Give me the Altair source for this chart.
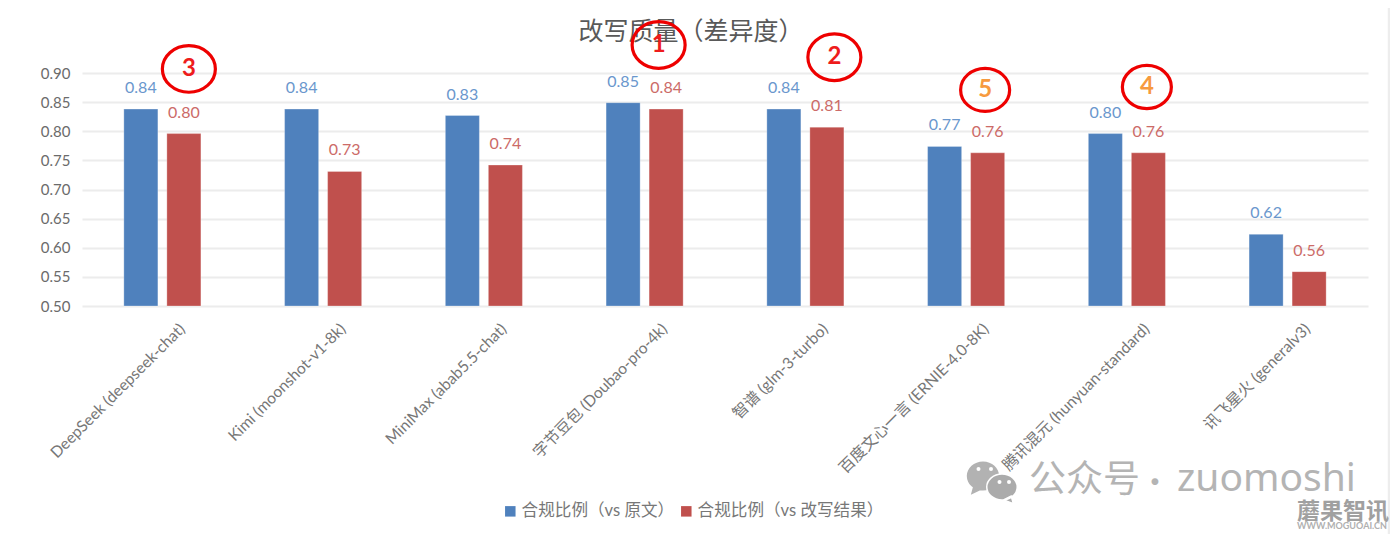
import altair as alt
import pandas as pd

FONT = "Lato, 'Noto Sans CJK SC', sans-serif"
CJK = "'Noto Sans CJK SC', sans-serif"

categories = [
    "DeepSeek (deepseek-chat)", "Kimi (moonshot-v1-8k)", "MiniMax (abab5.5-chat)",
    "字节豆包 (Doubao-pro-4k)", "智谱 (glm-3-turbo)", "百度文心一言 (ERNIE-4.0-8K)",
    "腾讯混元 (hunyuan-standard)", "讯飞星火 (generalv3)",
]
series = ["合规比例（vs 原文）", "合规比例（vs 改写结果）"]
vs_original = [0.838, 0.838, 0.827, 0.849, 0.838, 0.774, 0.796, 0.623]
vs_rewrite = [0.796, 0.731, 0.742, 0.838, 0.807, 0.763, 0.763, 0.559]

ann_rank = ["3", "1", "2", "5", "4"]
ann_cat = [categories[0], categories[3], categories[4], categories[5], categories[6]]
ann_level = [0.907, 0.948, 0.927, 0.871, 0.876]
ann_shift = [26.5, 14, 29, 19, 20]
ann_colour = ["#ee1c1c", "#ee1c1c", "#ee1c1c", "#f79a3e", "#f79a3e"]
ann_size = [2809, 2809, 2809, 2401, 2401]

rows = []
for c, a, b in zip(categories, vs_original, vs_rewrite):
    rows.append({"cat": c, "series": series[0], "v": a})
    rows.append({"cat": c, "series": series[1], "v": b})
df = pd.DataFrame(rows)

x = alt.X("cat:N", sort=categories, scale=alt.Scale(paddingInner=0, paddingOuter=0),
          axis=alt.Axis(title=None, labelAngle=315, labelAlign="right", labelBaseline="middle",
                        labelFontSize=15.7, labelColor="#777777", labelFont=FONT, labelPadding=20,
                        labelOffset=20, ticks=False, domain=False, grid=False, labelLimit=400,
                        labelOverlap=False))
xo = alt.XOffset("series:N", sort=series,
                 scale=alt.Scale(domain=series, paddingInner=0.209, paddingOuter=0.973))
y = alt.Y("v:Q", scale=alt.Scale(domain=[0.5, 0.9], nice=False),
          axis=alt.Axis(title=None, values=[0.5, 0.55, 0.6, 0.65, 0.7, 0.75, 0.8, 0.85, 0.9],
                        format=".2f", labelFontSize=15, labelColor="#6b6b6b", labelFont=FONT,
                        labelPadding=12, ticks=False, domain=False, grid=True,
                        gridColor="#ececec", gridWidth=2))

base = alt.Chart(df)
bars = base.mark_bar(strokeWidth=0.8, strokeOpacity=0.35, stroke="#ffffff").encode(
    x=x, xOffset=xo, y=y, y2=alt.datum(0.5),
    color=alt.Color("series:N", sort=series,
                    scale=alt.Scale(domain=series, range=["#4f81bd", "#c0504d"]),
                    legend=alt.Legend(orient="none", legendX=420, legendY=430, direction="horizontal",
                                      title=None, symbolType="square", symbolSize=110,
                                      symbolStrokeWidth=0, labelFontSize=16.6, labelColor="#777777",
                                      labelFont=FONT, labelOffset=3, columnPadding=3, labelLimit=300)),
)

def value_labels(name, colour):
    return base.transform_filter(alt.datum.series == name).mark_text(
        baseline="bottom", fontSize=16, font=FONT, color=colour, dy=-13
    ).encode(x=x, xOffset=xo, y=y, text=alt.Text("v:Q", format=".2f"))

labels_a = value_labels(series[0], "#6a97cd")
labels_b = value_labels(series[1], "#cc6b68")

ELLIPSE = "M -1 0 A 1 0.88 0 1 1 1 0 A 1 0.88 0 1 1 -1 0 Z"
ann_layers = []
for r, c, l, s, col, sz in zip(ann_rank, ann_cat, ann_level, ann_shift, ann_colour, ann_size):
    d = pd.DataFrame({"cat": [c], "v": [l], "r": [r]})
    ring = alt.Chart(d).mark_point(shape=ELLIPSE, filled=False, stroke="#ee0000", strokeWidth=3.2,
                                   size=sz, xOffset=s, opacity=1).encode(x=x, y=y)
    num = alt.Chart(d).mark_text(fontSize=24, fontWeight="bold", font=FONT, color=col,
                                 xOffset=s, baseline="middle").encode(x=x, y=y, text="r:N")
    ann_layers += [ring, num]

# page decoration, title and watermark, positioned in pixels from the plot origin
one = alt.Chart(pd.DataFrame({"k": [0]}))
FRAME = "#ededed"
frame_top = one.mark_rule(color=FRAME, strokeWidth=4).encode(
    x=alt.value(-82), x2=alt.value(1316), y=alt.value(-72))
frame_left = one.mark_rule(color=FRAME, strokeWidth=2.5).encode(
    x=alt.value(-78), y=alt.value(-72), y2=alt.value(461))
frame_right = one.mark_rule(color=FRAME, strokeWidth=2.5).encode(
    x=alt.value(1307), y=alt.value(-72), y2=alt.value(461))

title = one.mark_text(text="改写质量（差异度）", fontSize=25, font=CJK, color="#595959",
                      align="center", baseline="middle").encode(x=alt.value(609), y=alt.value(-41))

GREY = "#b2b2b2"
BUBBLE_L = "M -1 0 A 1 0.9 0 1 1 1 0 A 1 0.9 0 1 1 -1 0 Z M -0.1 0.85 L -0.75 1.15 L -0.6 0.6 Z"
BUBBLE_R = "M -1 0 A 1 0.85 0 1 1 1 0 A 1 0.85 0 1 1 -1 0 Z M 0.6 0.6 L 0.75 1.1 L 0.1 0.85 Z"
wechat_big = one.mark_point(filled=True, color=GREY, opacity=1, shape=BUBBLE_L, size=1050).encode(
    x=alt.value(901), y=alt.value(403))
wechat_small = one.mark_point(filled=True, fill="#ababab", stroke="#ffffff", strokeWidth=1.5, opacity=1,
                              shape=BUBBLE_R, size=930).encode(x=alt.value(920), y=alt.value(414))
eyes = []
for ex, ey in zip([896.5, 909, 917.5, 927], [396, 396, 409, 409]):
    eyes.append(one.mark_point(filled=True, color="#ffffff", opacity=1, shape="circle", size=16).encode(
        x=alt.value(ex), y=alt.value(ey)))
mark_text = one.mark_text(text="公众号", fontSize=37, font=CJK,
                          color="#b4b4b4", align="left", baseline="middle").encode(
    x=alt.value(947), y=alt.value(408))
mark_dot = one.mark_text(text="·", fontSize=36, font="Lato", fontWeight="bold",
                         color="#b4b4b4", align="center", baseline="middle").encode(
    x=alt.value(1073), y=alt.value(408))
mark_name = one.mark_text(text="zuomoshi", fontSize=39, font="'Noto Sans'",
                          color="#b4b4b4", align="left", baseline="middle").encode(
    x=alt.value(1095), y=alt.value(406))
brand = one.mark_text(text="蘑果智讯", fontSize=23, fontWeight="bold", font=CJK,
                      color="#a0a0a0", align="left", baseline="middle").encode(
    x=alt.value(1215), y=alt.value(439))
brand2 = one.mark_text(text="WWW.MOGUOAI.CN", fontSize=9, fontWeight="bold", font=FONT,
                       color="#b0b0b0", align="left", baseline="middle").encode(
    x=alt.value(1215), y=alt.value(453))

chart = alt.layer(
    frame_top, frame_left, frame_right, title, wechat_big, wechat_small, *eyes, mark_text, mark_dot,
    mark_name, brand, brand2, bars, labels_a, labels_b, *ann_layers,
).properties(
    width=1286, height=233,
    autosize=alt.AutoSizeParams(type="none"),
    padding={"left": 74, "top": 65, "right": 22, "bottom": 228},
    background="#ffffff",
).configure_view(stroke=None)

chart.save("out.html", embed_options={"renderer": "svg", "actions": False})
